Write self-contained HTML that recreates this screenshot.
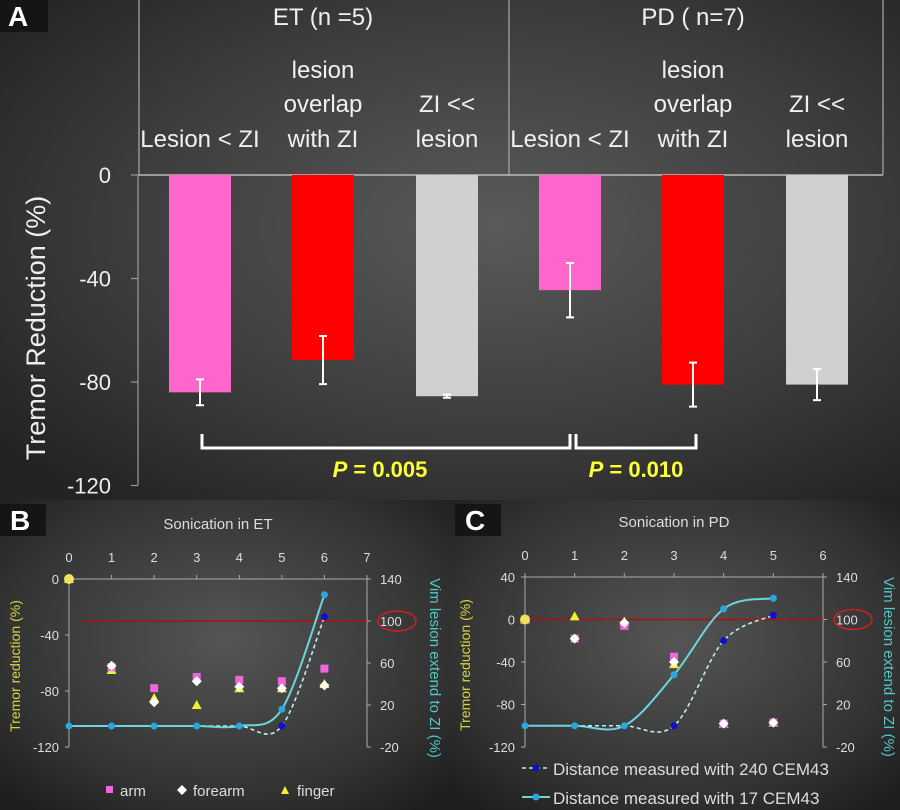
<!DOCTYPE html>
<html><head><meta charset="utf-8"><style>
html,body{margin:0;padding:0;background:#2a2a2a}
svg{display:block}
text{font-family:"Liberation Sans","DejaVu Sans",sans-serif}
</style></head><body>
<svg id="fig" width="900" height="810" viewBox="0 0 900 810" xmlns="http://www.w3.org/2000/svg">
<defs>
<radialGradient id="bgA" cx="0.55" cy="0.45" r="0.7">
<stop offset="0" stop-color="#5a5a5a"/><stop offset="0.6" stop-color="#3c3c3c"/><stop offset="1" stop-color="#232323"/></radialGradient>
<radialGradient id="bgB" cx="0.5" cy="0.45" r="0.7">
<stop offset="0" stop-color="#555"/><stop offset="0.7" stop-color="#333"/><stop offset="1" stop-color="#1e1e1e"/></radialGradient>
</defs>
<rect x="0" y="0" width="900" height="500" fill="url(#bgA)"/>
<rect x="0" y="500" width="450" height="310" fill="url(#bgB)"/>
<rect x="450" y="500" width="450" height="310" fill="url(#bgB)"/>
<g id="gA"></g>
<g id="gB"></g>
<g id="gC"></g>
</svg>
<script>
// ---- Panel A data ----
const aCategories = ["Lesion < ZI","lesion overlap with ZI","ZI << lesion","Lesion < ZI","lesion overlap with ZI","ZI << lesion"];
const aValues = [-84, -71.5, -85.5, -44.5, -81, -81];
const aErrors = [5, 9.3, 0.6, 10.5, 8.5, 6];
const aColors = ["#ff66cc","#ff0000","#d0d0d0","#ff66cc","#ff0000","#d0d0d0"];
const aTicks = [0, -40, -80, -120];
// ---- Panel B data ----
const bX = [0,1,2,3,4,5,6];
const bArm = [null,-63,-78,-70,-72,-73,-64];
const bForearm = [0,-62,-88,-73,-77,-78,-76];
const bFinger = [0,-65,-85,-90,-78,-78,-75];
const bSolid = [0,0,0,0,0,16,125];
const bDashed = [0,0,0,0,0,0,104];
const bXTicks = [0,1,2,3,4,5,6,7];
const bLeftTicks = [0,-40,-80,-120];
const rightTicks = [140,100,60,20,-20];
// ---- Panel C data ----
const cX = [0,1,2,3,4,5];
const cArm = [0,-18,-6,-35,-98,-97];
const cForearm = [0,-18,-3,-40,-98,-97];
const cFinger = [0,3,-2,-42,-98,-97];
const cSolid = [0,0,0,48,110,120];
const cDashed = [0,0,0,0,80,104];
const cXTicks = [0,1,2,3,4,5,6];
const cLeftTicks = [40,0,-40,-80,-120];

const NS="http://www.w3.org/2000/svg";
function mk(parent,tag,attrs,txt){const e=document.createElementNS(NS,tag);for(const k in attrs)e.setAttribute(k,attrs[k]);if(txt!==undefined)e.textContent=txt;parent.appendChild(e);return e;}

// ===== Panel A =====
const gA=document.getElementById('gA');
const ayScale=v=>175+(-v)*(310.5/120);
const aCenters=[200,323,447,570,693,817];
const axisX=138;
let e;
e=mk(gA,'path',{d:'M139 0 V175 M509 0 V175 M883 0 V175',stroke:'#aaa','stroke-width':1.2,fill:'none'});

e=mk(gA,'line',{x1:axisX,y1:175,x2:883,y2:175,stroke:'#bbb','stroke-width':1.5});

e=mk(gA,'line',{x1:axisX,y1:175,x2:axisX,y2:ayScale(-120),stroke:'#999','stroke-width':1.2});

aTicks.forEach(t=>{
 const y=ayScale(t);
 let l=mk(gA,'line',{x1:131,y1:y,x2:axisX,y2:y,stroke:'#999','stroke-width':1.2});
 
 let tx=mk(gA,'text',{x:111,y:y+8,'text-anchor':'end','font-size':22,fill:'#eee'},String(t));
 
});
e=mk(gA,'text',{x:0,y:0,transform:'translate(45,328) rotate(-90)','text-anchor':'middle','font-size':27,fill:'#eee'},'Tremor Reduction (%)');

aValues.forEach((v,i)=>{
 const cx=aCenters[i],w=62;
 let r=mk(gA,'rect',{x:cx-w/2,y:175,width:w,height:ayScale(v)-175,fill:aColors[i]});
 
 const y1=ayScale(v+aErrors[i]),y2=ayScale(v-aErrors[i]);
 let eb=mk(gA,'path',{d:`M${cx} ${y1} V${y2} M${cx-4} ${y1} H${cx+4} M${cx-4} ${y2} H${cx+4}`,stroke:'#fff','stroke-width':2,fill:'none'});
 
});
function txtA(x,y,s,name,size){let t=mk(gA,'text',{x:x,y:y,'text-anchor':'middle','font-size':size||24,fill:'#f0f0f0'},s);}
txtA(323,25,'ET (n =5)','group-et-title');
txtA(693,25,'PD ( n=7)','group-pd-title');
[0,3].forEach((o,k)=>{
 txtA(aCenters[o],147,'Lesion < ZI','category-label');
 txtA(aCenters[o+1],78,'lesion','category-label');
 txtA(aCenters[o+1],112,'overlap','category-label');
 txtA(aCenters[o+1],147,'with ZI','category-label');
 txtA(aCenters[o+2],112,'ZI <<','category-label');
 txtA(aCenters[o+2],147,'lesion','category-label');
});
e=mk(gA,'path',{d:'M202 434 V448 H570 V434 M576 434 V448 H696 V434',stroke:'#fff','stroke-width':3,fill:'none'});

e=mk(gA,'text',{x:380,y:477,'text-anchor':'middle','font-size':22,'font-weight':'bold',fill:'#ffff33'});
e.innerHTML='<tspan font-style="italic">P</tspan> = 0.005';

e=mk(gA,'text',{x:636,y:477,'text-anchor':'middle','font-size':22,'font-weight':'bold',fill:'#ffff33'});
e.innerHTML='<tspan font-style="italic">P</tspan> = 0.010';

e=mk(gA,'rect',{x:0,y:0,width:48,height:32,fill:'#151515'});

e=mk(gA,'text',{x:8,y:26,'font-size':28,'font-weight':'bold',fill:'#fff','font-family':'Liberation Serif, serif'},'A');


function smoothPath(pts){
 let d=`M${pts[0][0]} ${pts[0][1]}`;
 for(let i=0;i<pts.length-1;i++){
  const p0=pts[i-1]||pts[i],p1=pts[i],p2=pts[i+1],p3=pts[i+2]||p2;
  const c1=[p1[0]+(p2[0]-p0[0])/6,p1[1]+(p2[1]-p0[1])/6];
  const c2=[p2[0]-(p3[0]-p1[0])/6,p2[1]-(p3[1]-p1[1])/6];
  d+=` C${c1[0]} ${c1[1]} ${c2[0]} ${c2[1]} ${p2[0]} ${p2[1]}`;
 }
 return d;
}
function linePanel(g,cfg){
 const {x0,x1,xmin,xmax,yTop,yBot,lmax,lmin,rmax,rmin}=cfg;
 const xs=v=>x0+(v-xmin)*(x1-x0)/(xmax-xmin);
 const yl=v=>yTop+(lmax-v)*(yBot-yTop)/(lmax-lmin);
 const yr=v=>yTop+(rmax-v)*(yBot-yTop)/(rmax-rmin);
 let e;
 e=mk(g,'path',{d:`M${x0} ${yTop} H${x1} M${x0} ${yTop} V${yBot} M${x1} ${yTop} V${yBot}`,stroke:'#aaa','stroke-width':1,fill:'none'});
 
 cfg.xTicks.forEach(t=>{
  let l=mk(g,'line',{x1:xs(t),y1:yTop-4,x2:xs(t),y2:yTop,stroke:'#aaa'});
  
  let tx=mk(g,'text',{x:xs(t),y:yTop-17,'text-anchor':'middle','font-size':13,fill:'#ddd'},String(t));
  
 });
 cfg.lTicks.forEach(t=>{
  let l=mk(g,'line',{x1:x0-4,y1:yl(t),x2:x0,y2:yl(t),stroke:'#aaa'});
  
  let tx=mk(g,'text',{x:x0-10,y:yl(t)+5,'text-anchor':'end','font-size':13,fill:'#ddd'},String(t));
  
 });
 rightTicks.forEach(t=>{
  let l=mk(g,'line',{x1:x1,y1:yr(t),x2:x1+4,y2:yr(t),stroke:'#aaa'});
  
  let tx=mk(g,'text',{x:x1+13,y:yr(t)+5,'font-size':13,fill:'#ddd'},String(t));
  
 });
 e=mk(g,'ellipse',{cx:x1+30,cy:yr(100),rx:19,ry:10,fill:'none',stroke:'#cc2222','stroke-width':1.5});
 
 e=mk(g,'line',{x1:cfg.redStart,y1:yr(100),x2:x1,y2:yr(100),stroke:'#aa1111','stroke-width':1.5});
 
 const dp=cfg.dashed.map((v,i)=>[xs(cfg.X[i]),yr(v)]);
 const sp=cfg.solid.map((v,i)=>[xs(cfg.X[i]),yr(v)]);
 e=mk(g,'path',{d:smoothPath(dp),stroke:'#bfeef0','stroke-width':1.6,'stroke-dasharray':'4 3',fill:'none'});
 
 e=mk(g,'path',{d:smoothPath(sp),stroke:'#6cd6dc','stroke-width':2,fill:'none'});
 
 dp.forEach(p=>{let c=mk(g,'circle',{cx:p[0],cy:p[1],r:3.5,fill:'#1010cc'});});
 sp.forEach(p=>{let c=mk(g,'circle',{cx:p[0],cy:p[1],r:3.5,fill:'#2aa8d8'});});
 cfg.finger.forEach((v,i)=>{if(v===null)return;const x=xs(cfg.X[i]),y=yl(v);
  let t=mk(g,'path',{d:`M${x} ${y-5} L${x+5} ${y+4} L${x-5} ${y+4}Z`,fill:'#f4ee30'});});
 cfg.arm.forEach((v,i)=>{if(v===null)return;const x=xs(cfg.X[i]),y=yl(v);
  let t=mk(g,'rect',{x:x-4,y:y-4,width:8,height:8,fill:'#ee66dd'});});
 cfg.forearm.forEach((v,i)=>{if(v===null)return;const x=xs(cfg.X[i]),y=yl(v);
  let t=mk(g,'path',{d:`M${x} ${y-5} L${x+5} ${y} L${x} ${y+5} L${x-5} ${y}Z`,fill:'#fff','fill-opacity':cfg.X[i]===0?0.2:1});});
 if(cfg.zeroDot){let c=mk(g,'circle',{cx:xs(0),cy:yl(0),r:5,fill:'#f0e060'});}
 e=mk(g,'text',{x:(x0+x1)/2,y:yTop-50,'text-anchor':'middle','font-size':15,fill:'#ddd'},cfg.title);
 
 e=mk(g,'text',{x:0,y:0,transform:`translate(${cfg.lx},${(yTop+yBot)/2+3}) rotate(-90)`,'text-anchor':'middle','font-size':14,fill:'#d6d63a'},'Tremor reduction (%)');
 
 e=mk(g,'text',{x:0,y:0,transform:`translate(${cfg.rx},${(yTop+yBot)/2+5}) rotate(90)`,'text-anchor':'middle','font-size':15,fill:'#4ec8c8'},'Vim lesion extend to ZI (%)');
 
 e=mk(g,'rect',{x:cfg.labX,y:504,width:46,height:32,fill:'#151515'});
 
 e=mk(g,'text',{x:cfg.labX+10,y:530,'font-size':28,'font-weight':'bold',fill:'#fff','font-family':'Liberation Serif, serif'},cfg.label);
 
}
linePanel(document.getElementById('gB'),{x0:69,x1:367,xmin:0,xmax:7,yTop:579,yBot:747,lmax:0,lmin:-120,rmax:140,rmin:-20,
 xTicks:bXTicks,lTicks:bLeftTicks,X:bX,arm:bArm,forearm:bForearm,finger:bFinger,solid:bSolid,dashed:bDashed,
 redStart:82,title:'Sonication in ET',lx:20,rx:430,labX:0,label:'B',zeroDot:true});
linePanel(document.getElementById('gC'),{x0:525,x1:823,xmin:0,xmax:6,yTop:577,yBot:747,lmax:40,lmin:-120,rmax:140,rmin:-20,
 xTicks:cXTicks,lTicks:cLeftTicks,X:cX,arm:cArm,forearm:cForearm,finger:cFinger,solid:cSolid,dashed:cDashed,
 redStart:525,title:'Sonication in PD',lx:470,rx:884,labX:455,label:'C',zeroDot:true});

const gB=document.getElementById('gB'),gC=document.getElementById('gC');
e=mk(gB,'rect',{x:106,y:786,width:7,height:7,fill:'#ee66dd'});
e=mk(gB,'text',{x:120,y:796,'font-size':15,fill:'#ddd'},'arm');
e=mk(gB,'path',{d:'M182 785 L187 790 L182 795 L177 790Z',fill:'#fff'});
e=mk(gB,'text',{x:193,y:796,'font-size':15,fill:'#ddd'},'forearm');
e=mk(gB,'path',{d:'M285 786 L289 794 L281 794Z',fill:'#f4ee30'});
e=mk(gB,'text',{x:297,y:796,'font-size':15,fill:'#ddd'},'finger');
e=mk(gC,'line',{x1:522,y1:768,x2:550,y2:768,stroke:'#bfeef0','stroke-width':1.6,'stroke-dasharray':'4 3'});
e=mk(gC,'circle',{cx:536,cy:768,r:3.5,fill:'#1010cc'});
e=mk(gC,'text',{x:553,y:775,'font-size':17,fill:'#ddd'},'Distance measured with 240 CEM43');
e=mk(gC,'line',{x1:522,y1:797,x2:550,y2:797,stroke:'#6cd6dc','stroke-width':2});
e=mk(gC,'circle',{cx:536,cy:797,r:3.5,fill:'#2aa8d8'});
e=mk(gC,'text',{x:553,y:804,'font-size':17,fill:'#ddd'},'Distance measured with 17 CEM43');
</script>
</body></html>
